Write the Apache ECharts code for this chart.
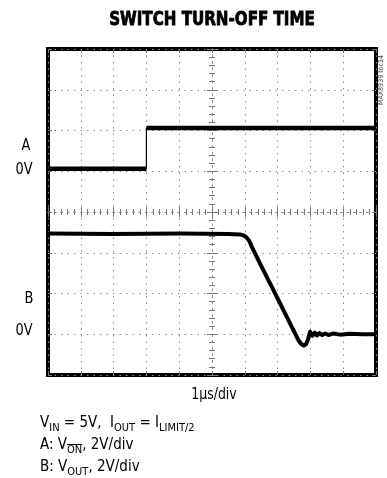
<!DOCTYPE html>
<html>
<head>
<meta charset="utf-8">
<script src="https://cdn.jsdelivr.net/npm/echarts@6.0.0/dist/echarts.min.js"></script>
<style>
	html, body { margin: 0; padding: 0; background: #fff; }
	#scope { width: 387px; height: 478px; }
</style>
</head>
<body>
<div id="scope"></div>
<script>
// time in divisions from screen centre (1us/div), level in divisions from centre
var aTime = [-5, -2, -2, 5];
var aVolt = [1.06, 1.06, 2.06, 2.06];

var bTime = [-5, -3, -1, 0.5, 0.85, 0.98, 1.07, 1.15, 1.21, 1.5, 2.0, 2.5, 2.63, 2.72, 2.8, 2.87, 2.93, 2.99, 3.06, 3.13, 3.2, 3.28, 3.36, 3.45, 3.55, 3.7, 3.9, 4.2, 4.6, 5];
var bVolt = [-0.53, -0.54, -0.53, -0.54, -0.55, -0.58, -0.64, -0.73, -0.85, -1.32, -2.12, -2.93, -3.14, -3.24, -3.28, -3.24, -3.12, -2.94, -3.04, -2.96, -3.03, -2.97, -3.02, -2.98, -3.02, -2.98, -3.01, -2.99, -3.0, -3.0];

var xTicks = [-5, 5];
var yTicks = [-4, 4];

var narrow = "'Liberation Sans Narrow', 'DejaVu Sans Condensed', sans-serif";
var dotColor = '#8c8c8c';

function pairs(t, v, from, to) {
	var out = [];
	for (var i = from; i <= to; i++) {
		out.push([t[i], v[i]]);
	}
	return out;
}

function gridAxis(min, max) {
	return {
		type: 'value', min: min, max: max, interval: 1,
		axisLine: {show: false, onZero: false},
		axisTick: {show: false},
		axisLabel: {show: false},
		splitLine: {show: true, lineStyle: {color: dotColor, width: 1, type: [1.5, 5]}}
	};
}

function centreAxis(min, max, inside) {
	return {
		type: 'value', min: min, max: max, interval: 1,
		axisLine: {show: true, onZero: true, lineStyle: {color: dotColor, width: 1, type: [1.5, 5]}},
		axisTick: {show: true, inside: inside, length: 5, lineStyle: {color: '#777', width: 1}},
		minorTick: {show: true, splitNumber: 5, length: 3, lineStyle: {color: '#777', width: 1}},
		axisLabel: {show: false},
		splitLine: {show: false}
	};
}

function edgeAxis(min, max, pos) {
	return {
		type: 'value', min: min, max: max, interval: 1, position: pos,
		axisLine: {show: false, onZero: false},
		axisTick: {show: true, inside: true, length: 4, lineStyle: {color: '#777', width: 1}},
		axisLabel: {show: false},
		splitLine: {show: false}
	};
}

// width of the text before the overlined "ON" subscript
var ctx = document.createElement('canvas').getContext('2d');
ctx.font = '15px ' + narrow;
var onLeft = 40 + ctx.measureText('A: V').width;
ctx.font = '11px ' + narrow;
var onWidth = ctx.measureText('ON').width;

var rich = {
	b: {fontFamily: narrow, fontSize: 15, lineHeight: 16, verticalAlign: 'middle', fill: '#000'},
	s: {fontFamily: narrow, fontSize: 11, lineHeight: 22, verticalAlign: 'bottom', fill: '#000'}
};

var myChart = echarts.init(document.getElementById('scope'));

var option = {
	animation: false,
	backgroundColor: '#fff',
	grid: {
		show: true, left: 48, top: 49, width: 328, height: 326,
		borderColor: '#000', borderWidth: 4, backgroundColor: 'transparent'
	},
	xAxis: [
		gridAxis(xTicks[0], xTicks[1]),
		centreAxis(xTicks[0], xTicks[1], true),
		centreAxis(xTicks[0], xTicks[1], false),
		edgeAxis(xTicks[0], xTicks[1], 'top'),
		edgeAxis(xTicks[0], xTicks[1], 'bottom')
	],
	yAxis: [
		gridAxis(yTicks[0], yTicks[1]),
		centreAxis(yTicks[0], yTicks[1], true),
		centreAxis(yTicks[0], yTicks[1], false),
		edgeAxis(yTicks[0], yTicks[1], 'left'),
		edgeAxis(yTicks[0], yTicks[1], 'right')
	],
	series: [
		{
			name: 'A low', type: 'line', showSymbol: false, z: 5,
			data: pairs(aTime, aVolt, 0, 1),
			lineStyle: {color: '#000', width: 4.5}
		},
		{
			name: 'A edge', type: 'line', showSymbol: false, z: 5,
			data: pairs(aTime, aVolt, 1, 2),
			lineStyle: {color: '#000', width: 1.2}
		},
		{
			name: 'A high', type: 'line', showSymbol: false, z: 5,
			data: pairs(aTime, aVolt, 2, 3),
			lineStyle: {color: '#000', width: 4.5}
		},
		{
			name: 'B', type: 'line', showSymbol: false, z: 5,
			data: pairs(bTime, bVolt, 0, bTime.length - 1),
			lineStyle: {color: '#000', width: 4, join: 'round'}
		}
	],
	graphic: [
		{type: 'text', x: 212, y: 20, scaleX: 0.84, style: {text: 'SWITCH TURN-OFF TIME', font: 'bold 20px ' + narrow, fill: '#000', stroke: '#000', lineWidth: 0.8, align: 'center', verticalAlign: 'middle'}},
		{type: 'text', x: 26, y: 146, scaleX: 0.9, style: {text: 'A', font: '16px ' + narrow, fill: '#000', align: 'center', verticalAlign: 'middle'}},
		{type: 'text', x: 24, y: 170, scaleX: 0.9, style: {text: '0V', font: '16px ' + narrow, fill: '#000', align: 'center', verticalAlign: 'middle'}},
		{type: 'text', x: 29, y: 299, scaleX: 0.9, style: {text: 'B', font: '16px ' + narrow, fill: '#000', align: 'center', verticalAlign: 'middle'}},
		{type: 'text', x: 24, y: 331, scaleX: 0.9, style: {text: '0V', font: '16px ' + narrow, fill: '#000', align: 'center', verticalAlign: 'middle'}},
		{type: 'text', x: 214, y: 395, scaleX: 0.87, style: {text: '1\u00b5s/div', font: '16px ' + narrow, fill: '#000', align: 'center', verticalAlign: 'middle'}},
		{type: 'text', x: 40, y: 412, style: {text: '{b|V}{s|IN}{b| = 5V,  I}{s|OUT}{b| = I}{s|LIMIT/2}', rich: rich}},
		{type: 'text', x: 40, y: 434, style: {text: '{b|A: V}{s|ON}{b|, 2V/div}', rich: rich}},
		{type: 'line', shape: {x1: onLeft, y1: 444.5, x2: onLeft + onWidth, y2: 444.5}, style: {stroke: '#000', lineWidth: 1}},
		{type: 'text', x: 40, y: 456, style: {text: '{b|B: V}{s|OUT}{b|, 2V/div}', rich: rich}},
		{type: 'text', x: 381, y: 80, rotation: Math.PI / 2, style: {text: 'MAX8939 toc14', font: '7px ' + narrow, fill: '#444', align: 'center', verticalAlign: 'middle'}}
	]
};

myChart.setOption(option);
</script>
</body>
</html>
